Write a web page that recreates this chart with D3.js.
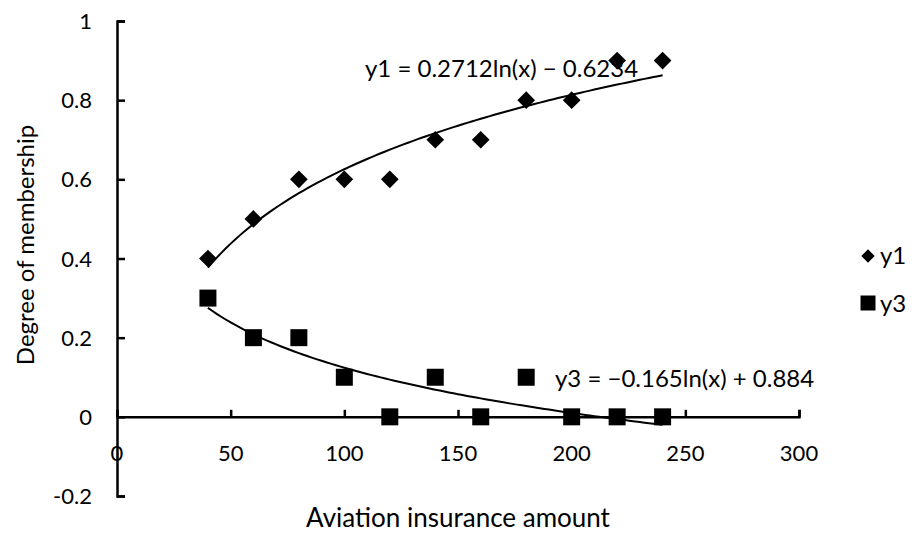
<!DOCTYPE html>
<html>
<head>
<meta charset="utf-8">
<script src="https://cdn.jsdelivr.net/npm/d3@7"></script>
<style>
  html, body { margin: 0; padding: 0; background: #fff; }
  svg text { font-family: Lato, "Open Sans", sans-serif; fill: #000; }
</style>
</head>
<body>
<svg id="chart" width="915" height="533"></svg>
<script>
// Observed membership degrees
const amounts = [40, 60, 80, 100, 120, 140, 160, 180, 200, 220, 240];
const y1Values = [0.4, 0.5, 0.6, 0.6, 0.6, 0.7, 0.7, 0.8, 0.8, 0.9, 0.9];
const y3Values = [0.3, 0.2, 0.2, 0.1, 0, 0.1, 0, 0.1, 0, 0, 0];

// Logarithmic trend line coefficients: y = a*ln(x) + b
const y1Fit = [0.2712, -0.6234];
const y3Fit = [-0.165, 0.884];
const fitLabels = ["y1 = 0.2712ln(x) \u2212 0.6234", "y3 = \u22120.165ln(x) + 0.884"];

const xTicks = [0, 50, 100, 150, 200, 250, 300];
const yTicks = [-0.2, 0, 0.2, 0.4, 0.6, 0.8, 1];
const yTickLabels = ["-0.2", "0", "0.2", "0.4", "0.6", "0.8", "1"];
const seriesNames = ["y1", "y3"];

const svg = d3.select("#chart");
const x = d3.scaleLinear().domain([0, 300]).range([117, 799]);
const y = d3.scaleLinear().domain([-0.2, 1]).range([496, 21]);

// Axes: y axis at x = 0, x axis at y = 0, ticks pointing inward
const xAxis = svg.append("g").attr("transform", `translate(0,${y(0)})`)
  .call(d3.axisTop(x).tickValues(xTicks).tickSize(7).tickFormat(""));
const yAxis = svg.append("g").attr("transform", `translate(${x(0)},0)`)
  .call(d3.axisRight(y).tickValues(yTicks).tickSize(8).tickFormat(""));
[xAxis, yAxis].forEach(g => {
  g.selectAll("path").attr("stroke", "#000").attr("stroke-width", 2.5);
  g.selectAll("line").attr("stroke", "#000").attr("stroke-width", 2.5);
});

// Tick labels
svg.append("g").selectAll("text").data(xTicks).join("text")
  .attr("x", d => x(d)).attr("y", 461)
  .attr("text-anchor", "middle").attr("font-size", 22)
  .text(d => d);
svg.append("g").selectAll("text").data(yTicks).join("text")
  .attr("x", 92).attr("y", d => y(d) + 8)
  .attr("text-anchor", "end").attr("font-size", 22)
  .text((d, i) => yTickLabels[i]);

// Axis titles
svg.append("text").attr("x", 458).attr("y", 527)
  .attr("text-anchor", "middle").attr("font-size", 26)
  .text("Aviation insurance amount");
svg.append("text").attr("transform", "translate(34,245) rotate(-90)")
  .attr("text-anchor", "middle").attr("font-size", 24)
  .text("Degree of membership");

// Trend lines
const curve = fit => d3.range(40, 240.5, 2).map(v => [v, fit[0] * Math.log(v) + fit[1]]);
const line = d3.line().x(d => x(d[0])).y(d => y(d[1]));
[y1Fit, y3Fit].forEach(fit => {
  svg.append("path").datum(curve(fit)).attr("d", line)
    .attr("fill", "none").attr("stroke", "#000").attr("stroke-width", 2);
});

// Markers
const diamond = d3.symbol().type(d3.symbolDiamond2).size(200);
const square = d3.symbol().type(d3.symbolSquare).size(289);
svg.append("g").selectAll("path").data(amounts.map((a, i) => [a, y1Values[i]])).join("path")
  .attr("d", diamond).attr("transform", d => `translate(${x(d[0])},${y(d[1])})`)
  .attr("fill", "#000");
svg.append("g").selectAll("path").data(amounts.map((a, i) => [a, y3Values[i]])).join("path")
  .attr("d", square).attr("transform", d => `translate(${x(d[0])},${y(d[1])})`)
  .attr("fill", "#000");

// Equation labels
svg.append("text").attr("x", 365).attr("y", 77).attr("font-size", 24).text(fitLabels[0]);
svg.append("text").attr("x", 555).attr("y", 387).attr("font-size", 24).text(fitLabels[1]);

// Legend
const legend = svg.append("g");
legend.append("path").attr("d", d3.symbol().type(d3.symbolDiamond2).size(112))
  .attr("transform", "translate(868,256)").attr("fill", "#000");
legend.append("path").attr("d", d3.symbol().type(d3.symbolSquare).size(225))
  .attr("transform", "translate(868,303)").attr("fill", "#000");
legend.selectAll("text").data(seriesNames).join("text")
  .attr("x", 880).attr("y", (d, i) => 264 + i * 48).attr("font-size", 24)
  .text(d => d);
</script>
</body>
</html>
